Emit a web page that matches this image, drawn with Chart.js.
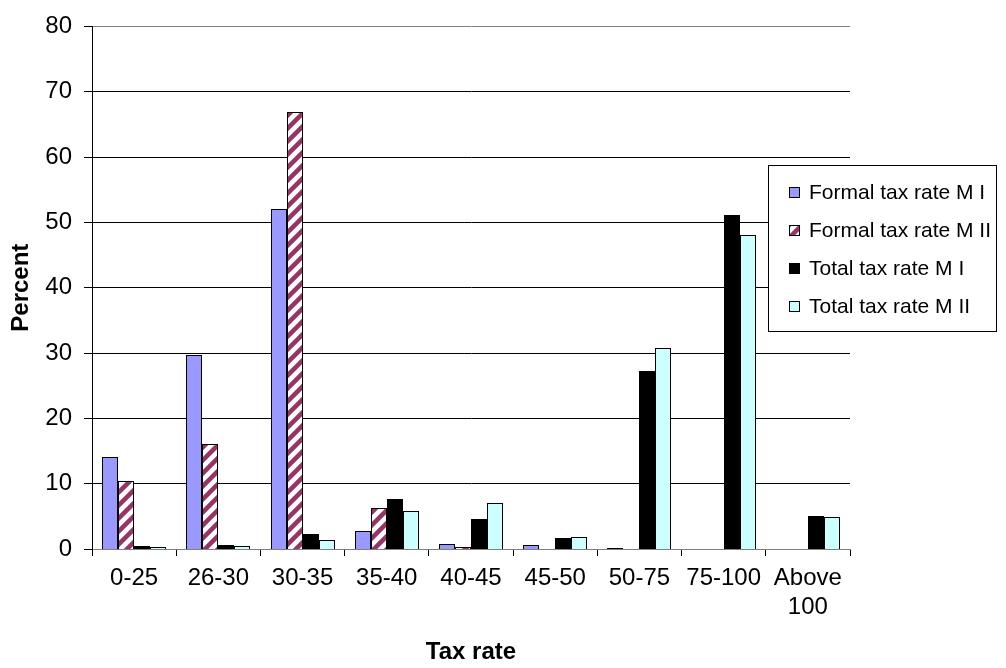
<!DOCTYPE html>
<html>
<head>
<meta charset="utf-8">
<script src="https://cdn.jsdelivr.net/npm/chart.js@4.4.1/dist/chart.umd.min.js"></script>
<style>
  html, body { margin: 0; padding: 0; background: #fff; }
  canvas { display: block; }
</style>
</head>
<body>
<canvas id="c" width="1006" height="668"></canvas>
<script>
const categories = ["0-25", "26-30", "30-35", "35-40", "40-45", "45-50", "50-75", "75-100", ["Above", "100"]];
const formalM1 = [14.1, 29.7, 52.1, 2.75, 0.75, 0.6, 0.2, null, null];
const formalM2 = [10.4, 16.1, 66.9, 6.3, 0.35, null, null, null, null];
const totalM1  = [0.45, 0.65, 2.36, 7.6, 4.55, 1.76, 27.2, 51.1, 5.07];
const totalM2  = [0.25, 0.4, 1.4, 5.85, 7.05, 1.85, 30.7, 48.0, 4.86];
const seriesLabels = ["Formal tax rate M I", "Formal tax rate M II", "Total tax rate M I", "Total tax rate M II"];
const yTicks = [0, 10, 20, 30, 40, 50, 60, 70, 80];

const FONT = "'Liberation Sans', Arial, Helvetica, sans-serif";

const ctx0 = document.getElementById('c').getContext('2d');
const hatch = ctx0.createPattern((function(){
  const s = 13;
  const t = document.createElement('canvas');
  t.width = s; t.height = s;
  const g = t.getContext('2d');
  g.fillStyle = '#ffffff';
  g.fillRect(0, 0, s, s);
  g.strokeStyle = '#993366';
  g.lineWidth = 4.5;
  g.beginPath();
  g.moveTo(-s, s); g.lineTo(s, -s);
  g.moveTo(0, s); g.lineTo(s, 0);
  g.moveTo(0, 2 * s); g.lineTo(2 * s, 0);
  g.stroke();
  return t;
})(), 'repeat');

const fills = ['#9999FF', hatch, '#000000', '#CCFFFF'];
const seriesData = [formalM1, formalM2, totalM1, totalM2];

// snap bar rectangles to whole pixels so the 1px black borders stay crisp
const snapPlugin = {
  id: 'snapBars',
  beforeDatasetsDraw(chart) {
    chart.data.datasets.forEach((ds, i) => {
      const meta = chart.getDatasetMeta(i);
      meta.data.forEach(el => {
        if (el.skip || el.y == null || isNaN(el.y)) return;
        const w = Math.round(el.width);
        const left = Math.round(el.x - el.width / 2);
        el.width = w;
        el.x = left + w / 2;
        el.y = Math.round(el.y);
        el.base = Math.round(el.base) + 1;
      });
    });
  }
};

const legendPlugin = {
  id: 'boxLegend',
  afterDraw(chart) {
    const c = chart.ctx;
    c.save();
    const bx = 768.5, by = 165.5, bw = 228, bh = 166;
    c.fillStyle = '#ffffff';
    c.fillRect(bx, by, bw, bh);
    c.strokeStyle = '#000000';
    c.lineWidth = 1;
    c.strokeRect(bx, by, bw, bh);
    const rows = [192, 230, 268, 306];
    c.font = '21px ' + FONT;
    c.textBaseline = 'middle';
    c.textAlign = 'left';
    chart.data.datasets.forEach((ds, i) => {
      const y = rows[i];
      c.fillStyle = ds.backgroundColor;
      c.fillRect(789, y - 5, 10, 10);
      c.strokeStyle = '#000';
      c.strokeRect(789.5, y - 4.5, 10, 10);
      c.fillStyle = '#000';
      c.fillText(ds.label, 809, y + 1);
    });
    c.restore();
  }
};

new Chart(document.getElementById('c'), {
  type: 'bar',
  data: {
    labels: categories,
    datasets: seriesData.map((d, i) => ({
      label: seriesLabels[i],
      data: d,
      backgroundColor: fills[i],
      borderColor: '#000000',
      borderWidth: 1,
      borderSkipped: 'bottom',
      categoryPercentage: 0.76,
      barPercentage: 1.0
    }))
  },
  options: {
    responsive: false,
    animation: false,
    devicePixelRatio: 1,
    layout: { padding: { top: 17, right: 156, left: 0, bottom: 0 } },
    plugins: { legend: { display: false }, tooltip: { enabled: false } },
    scales: {
      x: {
        offset: true,
        grid: { offset: true, drawOnChartArea: false, drawTicks: true, tickLength: 7, color: '#000000' },
        border: { color: '#808080', width: 1 },
        ticks: { color: '#000', font: { family: FONT, size: 24, lineHeight: 1.2 }, padding: 8, maxRotation: 0, autoSkip: false },
        title: { display: true, text: 'Tax rate', color: '#000', font: { family: FONT, size: 24, weight: 'bold', lineHeight: 1.2 }, padding: { top: 0, bottom: 1 } },
        afterFit(scale) { scale.height = 119; }
      },
      y: {
        min: 0, max: 80,
        afterBuildTicks(scale) { scale.ticks = yTicks.map(v => ({ value: v })); },
        grid: {
          color: (c) => (c.tick && (c.tick.value === 80 || c.tick.value === 0)) ? '#808080' : '#000000',
          tickColor: '#000000',
          tickLength: 8,
          drawTicks: true
        },
        border: { color: '#000000', width: 1 },
        ticks: { color: '#000', font: { family: FONT, size: 24 }, padding: 12 },
        title: { display: true, text: 'Percent', color: '#000', font: { family: FONT, size: 24, weight: 'bold', lineHeight: 1.2 }, padding: { top: 7, bottom: 0 } },
        afterFit(scale) { scale.width = 92; }
      }
    }
  },
  plugins: [snapPlugin, legendPlugin]
});
</script>
</body>
</html>
